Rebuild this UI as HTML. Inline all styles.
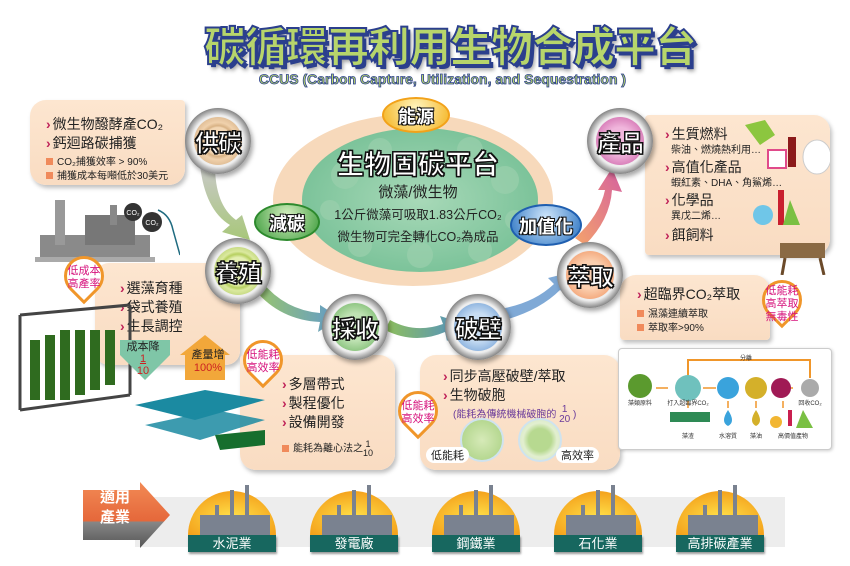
<!DOCTYPE html>
<html><head><meta charset="utf-8">
<style>
*{margin:0;padding:0;box-sizing:border-box}
body{width:850px;height:566px;background:#fff;position:relative;overflow:hidden;font-family:"Liberation Sans","Noto Sans CJK TC",sans-serif;color:#222}
.a{position:absolute}
.box{position:absolute;background:linear-gradient(180deg,#fde6d0,#f9dcc2);border-radius:14px;box-shadow:2px 3px 4px rgba(0,0,0,.25)}
.li{font-size:14px;line-height:19px;white-space:nowrap}
.li b{color:#c0245a;font-weight:bold;margin-right:2px}
.sm{font-size:10px;line-height:14px;white-space:nowrap}
.sq{display:inline-block;width:7px;height:7px;background:#f08a5b;margin-right:4px}
.badge{position:absolute;z-index:5;border-radius:50%;background:radial-gradient(circle,#eee 55%,#888 70%,#ddd 80%,#777 100%);box-shadow:2px 3px 5px rgba(0,0,0,.35)}
.badge i{position:absolute;left:9px;top:9px;right:9px;bottom:9px;border-radius:50%}
.badge span{position:absolute;left:0;right:0;top:50%;transform:translateY(-50%);text-align:center;font-size:24px;font-weight:bold;color:#fff;-webkit-text-stroke:1px #111;text-shadow:1px 1px 0 #111,-1px -1px 0 #111,1px -1px 0 #111,-1px 1px 0 #111;letter-spacing:-1px}
.pin{position:absolute;z-index:6;width:40px;height:40px;border-radius:50% 50% 50% 0;transform:rotate(-45deg);border:3px solid #f0962a;background:#fff}
.pint{position:absolute;z-index:7;width:58px;text-align:center;font-size:11px;line-height:13px;color:#d6127c}
.ell{position:absolute;z-index:4;border-radius:50%;text-align:center;font-weight:bold;font-size:18px;color:#fff;text-shadow:1px 1px 0 #111,-1px -1px 0 #111,1px -1px 0 #111,-1px 1px 0 #111}
.ind{position:absolute;text-align:center;font-size:13px;color:#fff;background:#17675f;height:17px;line-height:17px;width:88px;box-shadow:1px 2px 2px rgba(0,0,0,.4)}
</style></head><body>

<div class="a" style="left:190px;top:14px;width:520px;text-align:center;font-size:42px;font-weight:900;color:#b7d56b;-webkit-text-stroke:2px #2b3f8d;text-shadow:3px 3px 0 #2b3f8d,4px 5px 4px rgba(0,0,0,.4);letter-spacing:-1px;white-space:nowrap">碳循環再利用生物合成平台</div>
<div class="a" style="left:250px;top:71px;width:385px;text-align:center;font-size:14px;font-weight:bold;color:#b7d56b;-webkit-text-stroke:0.8px #2b3f8d;white-space:nowrap">CCUS (Carbon Capture, Utilization, and Sequestration )</div>

<svg class="a" style="left:0;top:0" width="850" height="566">
<defs>
<linearGradient id="g1" x1="0" y1="0" x2="0" y2="1"><stop offset="0" stop-color="#c9c9c9"/><stop offset="1" stop-color="#a8c77a"/></linearGradient>
<linearGradient id="g2" x1="0" y1="0" x2="1" y2="0"><stop offset="0" stop-color="#8fbf5b"/><stop offset="1" stop-color="#4f8fc8"/></linearGradient>
<linearGradient id="g3" x1="0" y1="1" x2="1" y2="0"><stop offset="0" stop-color="#f4a36b"/><stop offset="1" stop-color="#d5609f"/></linearGradient>
<radialGradient id="cg" cx=".5" cy=".5" r=".5"><stop offset="0" stop-color="#a8d9b8"/><stop offset="1" stop-color="#7cc39a"/></radialGradient>
</defs>
<path d="M200,165 Q205,210 230,225 L222,232 L250,240 L242,215 L236,220 Q215,205 215,165Z" fill="url(#g1)"/>
<path d="M255,290 Q280,320 320,322 L318,332 L340,318 L320,305 L320,313 Q285,310 262,282Z" fill="url(#g2)" opacity=".9"/>
<path d="M385,330 Q415,345 445,332 L447,341 L465,324 L440,316 L443,324 Q415,334 390,320Z" fill="url(#g2)"/>
<path d="M505,320 Q540,310 560,290 L567,296 L572,272 L548,278 L554,284 Q535,302 505,308Z" fill="#7fa9d6"/>
<path d="M585,245 Q610,220 612,190 L622,192 L612,168 L598,190 L605,190 Q600,215 575,238Z" fill="url(#g3)"/>
<ellipse cx="413" cy="200" rx="140" ry="86" fill="#f7d9bb"/>
<ellipse cx="420" cy="200" rx="118" ry="72" fill="url(#cg)"/>
<g fill="#9bd0ad" opacity=".7">
<circle cx="345" cy="175" r="14"/><circle cx="380" cy="150" r="12"/><circle cx="470" cy="150" r="13"/><circle cx="505" cy="180" r="14"/><circle cx="360" cy="245" r="12"/><circle cx="420" cy="255" r="13"/><circle cx="480" cy="250" r="12"/><circle cx="330" cy="210" r="10"/><circle cx="515" cy="220" r="10"/></g>
</svg>

<div class="a" style="left:318px;top:143px;width:200px;text-align:center;font-size:27px;color:#fff;font-weight:bold;-webkit-text-stroke:1px #111;text-shadow:1px 1px 0 #111,-1px -1px 0 #111,1px -1px 0 #111,-1px 1px 0 #111">生物固碳平台</div>
<div class="a" style="left:318px;top:181px;width:200px;text-align:center;font-size:15px">微藻/微生物</div>
<div class="a" style="left:318px;top:204px;width:200px;text-align:center;font-size:12.5px;white-space:nowrap">1公斤微藻可吸取1.83公斤CO₂</div>
<div class="a" style="left:318px;top:226px;width:200px;text-align:center;font-size:12.5px;white-space:nowrap">微生物可完全轉化CO₂為成品</div>

<div class="ell" style="left:382px;top:97px;width:68px;height:36px;line-height:36px;background:radial-gradient(circle at 50% 30%,#fff6c0,#f4b21e);border:2px solid #f2a21a">能源</div>
<div class="ell" style="left:254px;top:203px;width:66px;height:38px;line-height:38px;background:radial-gradient(circle at 50% 30%,#d6f0c0,#3a9a3a);border:2px solid #2d8a2d">減碳</div>
<div class="ell" style="left:510px;top:204px;width:72px;height:42px;line-height:42px;background:radial-gradient(circle at 50% 30%,#cfe6fb,#2670c0);border:2px solid #1f5fb0">加值化</div>

<div class="badge" style="left:185px;top:108px;width:66px;height:66px"><i style="background:radial-gradient(circle,#f2d6b3 40%,#d8b285 45%,#f0d1ac 55%,#c59d70 100%)"></i><span>供碳</span></div>
<div class="badge" style="left:205px;top:238px;width:66px;height:66px"><i style="background:radial-gradient(circle,#e4efb2 40%,#b7d060 50%,#dbe9a0 58%,#9cbc46 100%)"></i><span>養殖</span></div>
<div class="badge" style="left:322px;top:294px;width:66px;height:66px"><i style="background:radial-gradient(circle,#bfe2b3 40%,#64ad58 100%)"></i><span>採收</span></div>
<div class="badge" style="left:445px;top:294px;width:66px;height:66px"><i style="background:radial-gradient(circle,#c8ddf3 40%,#5f93cf 100%)"></i><span>破壁</span></div>
<div class="badge" style="left:557px;top:242px;width:66px;height:66px"><i style="background:radial-gradient(circle,#fbd0b0 40%,#ee8a55 100%)"></i><span>萃取</span></div>
<div class="badge" style="left:587px;top:108px;width:66px;height:66px"><i style="background:radial-gradient(circle,#f0b6dc 40%,#c54f9c 100%)"></i><span>產品</span></div>

<div class="box" style="left:30px;top:100px;width:155px;height:85px;border-radius:16px 4px 16px 16px"></div>
<div class="a" style="left:46px;top:115px"><div class="li"><b>›</b>微生物醱酵產CO₂</div><div class="li"><b>›</b>鈣迴路碳捕獲</div>
<div class="sm" style="margin-top:3px"><span class="sq"></span>CO₂捕獲效率 &gt; 90%</div><div class="sm"><span class="sq"></span>捕獲成本每噸低於30美元</div></div>
<svg class="a" style="left:30px;top:185px" width="150" height="80">
<rect x="10" y="50" width="110" height="25" fill="#8a8a8a"/><rect x="25" y="15" width="10" height="45" fill="#999"/><rect x="55" y="30" width="50" height="30" fill="#777"/><rect x="80" y="20" width="7" height="20" fill="#888"/>
<rect x="5" y="72" width="120" height="5" fill="#aaa"/>
<circle cx="103" cy="27" r="9" fill="#333"/><text x="103" y="30" font-size="7" fill="#fff" text-anchor="middle">CO₂</text>
<circle cx="122" cy="37" r="10" fill="#333"/><text x="122" y="40" font-size="7" fill="#fff" text-anchor="middle">CO₂</text>
<path d="M128 25 Q140 30 143 45 L150 70" stroke="#1f6b80" stroke-width="1.5" fill="none"/>
</svg>

<div class="box" style="left:95px;top:263px;width:145px;height:102px"></div>
<div class="a" style="left:120px;top:279px"><div class="li"><b>›</b>選藻育種</div><div class="li"><b>›</b>袋式養殖</div><div class="li"><b>›</b>生長調控</div></div>
<svg class="a" style="left:10px;top:300px" width="130" height="120">
<g fill="#2f6b1f"><rect x="20" y="40" width="10" height="60"/><rect x="35" y="35" width="10" height="65"/><rect x="50" y="30" width="10" height="70"/><rect x="65" y="30" width="10" height="65"/><rect x="80" y="30" width="10" height="60"/><rect x="95" y="30" width="10" height="55"/></g>
<path d="M10 15 L120 5 M10 15 L10 110 M120 5 L120 95 M10 110 L120 95" stroke="#444" stroke-width="3" fill="none"/>
</svg>
<svg class="a" style="left:115px;top:335px" width="120" height="50">
<path d="M5 5 H55 V20 L30 45 L5 20Z" fill="#7fc6a7"/>
<path d="M65 20 L90 0 L115 20 H110 V45 H70 V20Z" fill="#f2a73a"/>
</svg>
<div class="a" style="left:118px;top:341px;width:50px;text-align:center;font-size:11px;line-height:12px">成本降<br><span style="color:#c22;text-decoration:underline">1</span><br><span style="color:#c22">10</span></div>
<div class="a" style="left:183px;top:349px;width:50px;text-align:center;font-size:11px;line-height:13px">產量增<br><span style="color:#c22">100%</span></div>

<div class="box" style="left:240px;top:355px;width:155px;height:115px;border-radius:4px 16px 16px 16px"></div>
<div class="a" style="left:282px;top:375px"><div class="li"><b>›</b>多層帶式</div><div class="li"><b>›</b>製程優化</div><div class="li"><b>›</b>設備開發</div>
<div class="sm" style="margin-top:8px"><span class="sq"></span>能耗為離心法之<span style="display:inline-block;vertical-align:middle;text-align:center;line-height:9px;font-size:9px">1<br>10</span></div></div>
<svg class="a" style="left:125px;top:385px" width="140" height="70">
<g fill="#1b8aa1"><path d="M10 20 L80 5 L140 15 L70 35Z"/><path d="M20 40 L90 25 L140 35 L75 55Z" opacity=".85"/></g>
<path d="M90 50 L140 45 L140 60 L95 65Z" fill="#166e2e"/>
</svg>

<div class="box" style="left:420px;top:355px;width:200px;height:115px;border-radius:16px"></div>
<div class="a" style="left:443px;top:367px"><div class="li"><b>›</b>同步高壓破壁/萃取</div><div class="li"><b>›</b>生物破胞</div>
<div class="sm" style="color:#6a3a9a;margin-left:10px">(能耗為傳統機械破胞的 <span style="display:inline-block;vertical-align:middle;text-align:center;line-height:10px;font-size:10px">1<br>20</span> )</div></div>
<div class="a" style="left:460px;top:418px;width:44px;height:44px;border-radius:50%;background:radial-gradient(circle,#d6eab8,#a8d080);border:2px solid #cfe3ef"></div>
<div class="a" style="left:518px;top:418px;width:44px;height:44px;border-radius:50%;background:radial-gradient(circle,#b7d990 40%,#e2efd0 60%,#cfe3c0);border:2px solid #cfe3ef"></div>
<div class="a" style="left:426px;top:447px;background:#fff;border-radius:8px;padding:0 5px;font-size:11px">低能耗</div>
<div class="a" style="left:556px;top:447px;background:#fff;border-radius:8px;padding:0 5px;font-size:11px">高效率</div>

<div class="box" style="left:645px;top:115px;width:185px;height:140px;border-radius:4px 16px 16px 4px"></div>
<div class="a" style="left:665px;top:125px">
<div class="li"><b>›</b>生質燃料</div><div class="sm" style="margin-left:6px">柴油、燃燒熱利用…</div>
<div class="li"><b>›</b>高值化產品</div><div class="sm" style="margin-left:6px">蝦紅素、DHA、角鯊烯…</div>
<div class="li"><b>›</b>化學品</div><div class="sm" style="margin-left:6px">異戊二烯…</div>
<div class="li" style="margin-top:2px"><b>›</b>餌飼料</div></div>
<svg class="a" style="left:720px;top:115px" width="110" height="160">
<path d="M25 10 L45 5 L55 20 L40 30Z" fill="#8cc63f"/><rect x="68" y="22" width="8" height="30" fill="#8b1a1a"/>
<rect x="48" y="35" width="18" height="18" fill="#fff" stroke="#e04a8a" stroke-width="2"/>
<ellipse cx="97" cy="42" rx="14" ry="17" fill="#fff" stroke="#ccc"/>
<circle cx="43" cy="100" r="10" fill="#6fc6e8"/><rect x="58" y="75" width="6" height="35" fill="#c91f2f"/><path d="M70 85 L80 110 H63Z" fill="#7ac043"/>
<rect x="60" y="128" width="45" height="15" fill="#8a6a44"/><path d="M65 143 L62 160 M100 143 L104 160" stroke="#6b4a2a" stroke-width="3"/>
</svg>

<div class="box" style="left:620px;top:275px;width:150px;height:65px;border-radius:16px 16px 4px 4px"></div>
<div class="a" style="left:637px;top:285px"><div class="li"><b>›</b>超臨界CO₂萃取</div>
<div class="sm" style="margin-top:4px"><span class="sq"></span>濕藻連續萃取</div><div class="sm"><span class="sq"></span>萃取率&gt;90%</div></div>

<div class="a" style="left:618px;top:348px;width:214px;height:102px;background:#fff;border:1px solid #ccc;border-radius:4px;box-shadow:1px 1px 3px rgba(0,0,0,.2)"></div>
<svg class="a" style="left:618px;top:348px" width="214" height="102">
<path d="M70 30 V12 H192 V30" stroke="#f0962a" stroke-width="2" fill="none"/>
<g stroke="#f0962a" stroke-width="1.5"><line x1="38" y1="40" x2="50" y2="40"/><line x1="85" y1="40" x2="98" y2="40"/><line x1="165" y1="40" x2="175" y2="40"/><line x1="70" y1="50" x2="70" y2="60"/><line x1="110" y1="53" x2="110" y2="60"/><line x1="138" y1="53" x2="138" y2="60"/><line x1="165" y1="53" x2="165" y2="60"/></g>
<circle cx="22" cy="38" r="12" fill="#5b9a2e"/><circle cx="70" cy="40" r="13" fill="#6fc1bd"/><circle cx="110" cy="40" r="11" fill="#3aa3dc"/><circle cx="138" cy="40" r="11" fill="#d4b02a"/><circle cx="163" cy="40" r="10" fill="#a01a55"/><circle cx="192" cy="40" r="9" fill="#aaa"/>
<rect x="52" y="64" width="40" height="10" fill="#2e8a55"/><path d="M110 62 Q102 74 110 78 Q118 74 110 62Z" fill="#3aa3dc"/><path d="M138 62 Q130 74 138 78 Q146 74 138 62Z" fill="#d4b02a"/>
<circle cx="158" cy="74" r="6" fill="#f2b632"/><rect x="170" y="62" width="4" height="16" fill="#c91f4f"/><path d="M185 62 L195 80 H178Z" fill="#7ac043"/>
<g font-size="6" text-anchor="middle" fill="#333"><text x="22" y="57">藻類原料</text><text x="70" y="57">打入超臨界CO₂</text><text x="128" y="12">分離</text><text x="192" y="57">回收CO₂</text><text x="70" y="90">藻渣</text><text x="110" y="90">水溶質</text><text x="138" y="90">藻油</text><text x="175" y="90">高價值產物</text></g>
</svg>

<div class="pin" style="left:64px;top:256px"></div><div class="pint" style="left:55px;top:265px">低成本<br>高產率</div>
<div class="pin" style="left:243px;top:340px"></div><div class="pint" style="left:234px;top:349px">低能耗<br>高效率</div>
<div class="pin" style="left:398px;top:391px"></div><div class="pint" style="left:389px;top:400px">低能耗<br>高效率</div>
<div class="pin" style="left:762px;top:280px"></div><div class="pint" style="left:753px;top:285px">低能耗<br>高萃取<br>無毒性</div>

<div class="a" style="left:135px;top:497px;width:650px;height:50px;background:#ededed"></div>
<svg class="a" style="left:78px;top:482px" width="100" height="70">
<defs><linearGradient id="ar" x1="0" y1="0" x2="0" y2="1"><stop offset="0" stop-color="#f28a55"/><stop offset=".6" stop-color="#e5673a"/><stop offset=".6" stop-color="#888"/><stop offset="1" stop-color="#555"/></linearGradient></defs>
<path d="M5 8 H62 V0 L92 33 L62 66 V58 H5Z" fill="url(#ar)"/>
</svg>
<div class="a" style="left:100px;top:488px;font-size:15px;line-height:20px;color:#fff;font-weight:bold">適用<br>產業</div>

<svg class="a" style="left:0;top:480px" width="850" height="70">
<defs><radialGradient id="sun" cx=".5" cy=".6" r=".6"><stop offset="0" stop-color="#ffe14a"/><stop offset="1" stop-color="#f4a21c"/></radialGradient></defs>
<g id="f">
<path d="M188 55 A44 44 0 0 1 276 55Z" fill="url(#sun)"/>
<g fill="#7a8290"><rect x="200" y="35" width="70" height="20"/><rect x="230" y="10" width="4" height="30"/><rect x="245" y="5" width="4" height="35"/><rect x="215" y="25" width="4" height="15"/></g>
</g>
<use href="#f" x="122"/><use href="#f" x="244"/><use href="#f" x="366"/><use href="#f" x="488"/>
</svg>
<div class="ind" style="left:188px;top:535px">水泥業</div>
<div class="ind" style="left:310px;top:535px">發電廠</div>
<div class="ind" style="left:432px;top:535px">鋼鐵業</div>
<div class="ind" style="left:554px;top:535px">石化業</div>
<div class="ind" style="left:676px;top:535px">高排碳產業</div>
</body></html>
